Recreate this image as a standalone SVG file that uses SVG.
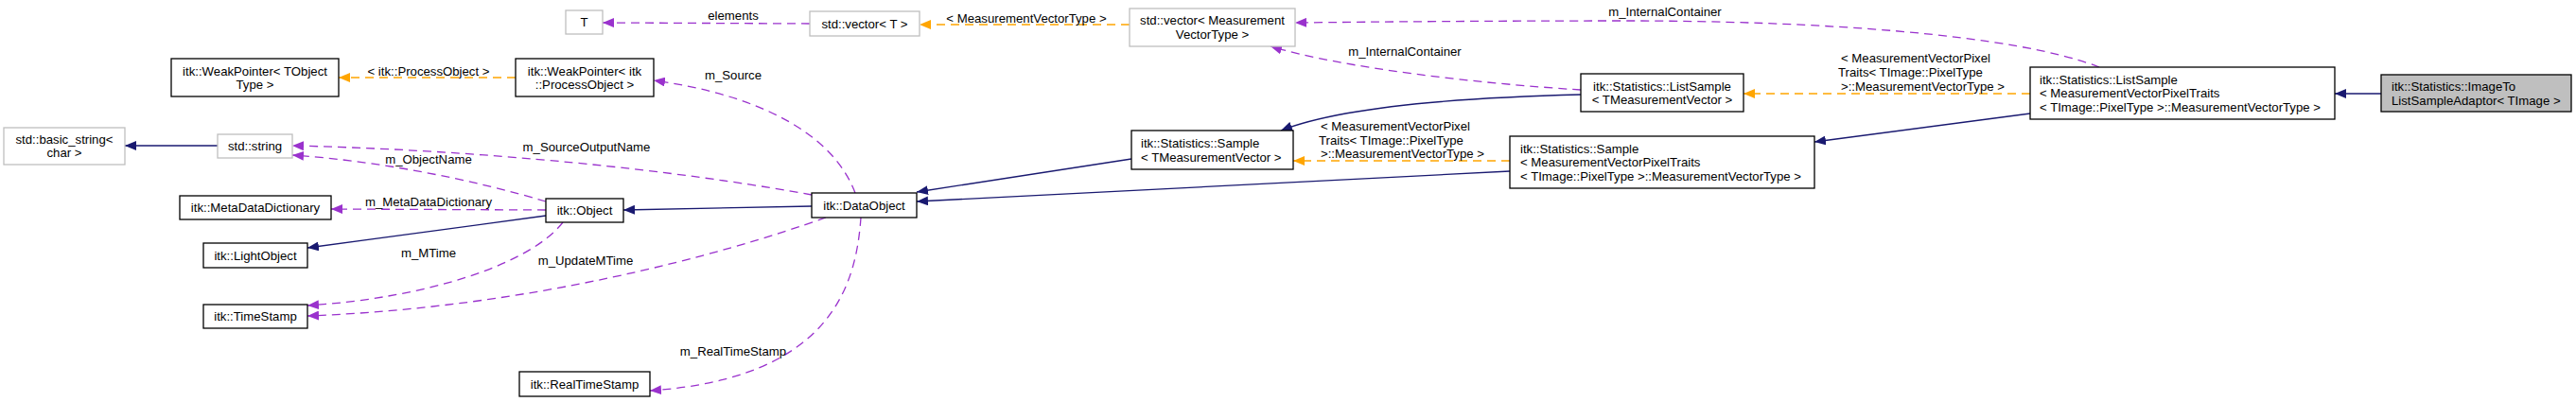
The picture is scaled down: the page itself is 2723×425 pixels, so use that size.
<svg xmlns="http://www.w3.org/2000/svg" width="2723" height="425" viewBox="0 0 2723 425">
<style>
text{font-family:"Liberation Sans",Arial,sans-serif;font-size:13.2px;fill:#000}
.m{text-anchor:middle}
.n rect{fill:#fff;stroke:#000;stroke-width:1.3}
.g rect{fill:#fff;stroke:#bfbfbf;stroke-width:1.3}
.cur rect{fill:#bfbfbf;stroke:#000;stroke-width:1.3}
.e{fill:none;stroke-width:1.3}
.nv{stroke:#191970;marker-end:url(#aN)}
.pu{stroke:#9a32cd;stroke-dasharray:9,6;marker-end:url(#aP)}
.or{stroke:#ffa500;stroke-dasharray:9,6;marker-end:url(#aO)}
</style>
<defs>
<marker id="aN" markerUnits="userSpaceOnUse" markerWidth="12" markerHeight="10" viewBox="0 0 12 10" refX="12" refY="5" orient="auto"><path d="M0,0 L12,5 L0,10 z" fill="#191970"/></marker>
<marker id="aP" markerUnits="userSpaceOnUse" markerWidth="12" markerHeight="10" viewBox="0 0 12 10" refX="12" refY="5" orient="auto"><path d="M0,0 L12,5 L0,10 z" fill="#9a32cd"/></marker>
<marker id="aO" markerUnits="userSpaceOnUse" markerWidth="12" markerHeight="10" viewBox="0 0 12 10" refX="12" refY="5" orient="auto"><path d="M0,0 L12,5 L0,10 z" fill="#ffa500"/></marker>
</defs>
<rect width="2723" height="425" fill="#fff"/>
<g id="edges">
<path class="e nv" d="M2517,99 L2468,99"/>
<path class="e nv" d="M2146,120 L1918,150"/>
<path class="e or" d="M2146,99 L1843,99"/>
<text x="1946" y="65.5">&lt; MeasurementVectorPixel</text>
<text x="1943" y="80.5">Traits&lt; TImage::PixelType</text>
<text x="1946" y="95.5">&gt;::MeasurementVectorType &gt;</text>
<path class="e pu" d="M2219,71 C2130,36 1920,22 1720,22 C1580,22 1460,23 1369,24"/>
<text class="m" x="1760" y="16.5">m_InternalContainer</text>
<path class="e nv" d="M1671,100 C1550,103 1420,112 1354,138"/>
<path class="e pu" d="M1671,95 C1560,88 1420,72 1343,49"/>
<text class="m" x="1485" y="58.5">m_InternalContainer</text>
<path class="e or" d="M1596,170 L1367,170"/>
<text x="1396" y="137.5">&lt; MeasurementVectorPixel</text>
<text x="1394" y="152.5">Traits&lt; TImage::PixelType</text>
<text x="1396" y="167">&gt;::MeasurementVectorType &gt;</text>
<path class="e nv" d="M1596,181 L969,213"/>
<path class="e nv" d="M1196,168 L969,203"/>
<path class="e nv" d="M858,218 L659,222"/>
<path class="e nv" d="M577,228 L325,262"/>
<path class="e nv" d="M230,154 L132,154"/>
<path class="e or" d="M1194,26 L972,26"/>
<text class="m" x="1085" y="23.5">&lt; MeasurementVectorType &gt;</text>
<path class="e pu" d="M856,25 L637,24"/>
<text class="m" x="775" y="20.5">elements</text>
<path class="e or" d="M545,82 L358,82"/>
<text class="m" x="453" y="79.5">&lt; itk::ProcessObject &gt;</text>
<path class="e pu" d="M904,204 C880,140 800,100 691,85"/>
<text class="m" x="775" y="83.5">m_Source</text>
<path class="e pu" d="M858,206 C760,188 560,160 309,154"/>
<text class="m" x="620" y="159.5">m_SourceOutputName</text>
<path class="e pu" d="M577,213 C500,190 400,170 309,164"/>
<text class="m" x="453" y="172.5">m_ObjectName</text>
<path class="e pu" d="M577,222 L350,221"/>
<text class="m" x="453" y="217.5">m_MetaDataDictionary</text>
<path class="e pu" d="M595,235 C560,280 450,315 325,323"/>
<text class="m" x="453" y="271.5">m_MTime</text>
<path class="e pu" d="M873,230 C760,270 560,325 325,334"/>
<text class="m" x="619" y="279.5">m_UpdateMTime</text>
<path class="e pu" d="M910,230 C905,300 880,400 687,413"/>
<text class="m" x="775" y="375.5">m_RealTimeStamp</text>
</g>
<g id="adaptor" class="cur"><rect x="2517" y="79" width="201" height="39"/><text x="2528" y="96">itk::Statistics::ImageTo</text><text x="2528" y="110.5">ListSampleAdaptor&lt; TImage &gt;</text></g>
<g id="listSampleMVPT" class="n"><rect x="2146" y="71" width="322" height="55"/><text x="2156" y="88.5">itk::Statistics::ListSample</text><text x="2156" y="103">&lt; MeasurementVectorPixelTraits</text><text x="2156" y="117.5">&lt; TImage::PixelType &gt;::MeasurementVectorType &gt;</text></g>
<g id="sampleMVPT" class="n"><rect x="1596" y="144" width="322" height="55"/><text x="1607" y="161.5">itk::Statistics::Sample</text><text x="1607" y="176">&lt; MeasurementVectorPixelTraits</text><text x="1607" y="190.5">&lt; TImage::PixelType &gt;::MeasurementVectorType &gt;</text></g>
<g id="listSampleTMV" class="n"><rect x="1671" y="78" width="172" height="40"/><text class="m" x="1757" y="95.5">itk::Statistics::ListSample</text><text class="m" x="1757" y="110">&lt; TMeasurementVector &gt;</text></g>
<g id="sampleTMV" class="n"><rect x="1196" y="138" width="171" height="41"/><text x="1206" y="156">itk::Statistics::Sample</text><text x="1206" y="170.5">&lt; TMeasurementVector &gt;</text></g>
<g id="vectorMeas" class="g"><rect x="1194" y="9" width="175" height="40"/><text class="m" x="1281.5" y="26">std::vector&lt; Measurement</text><text class="m" x="1281.5" y="40.5">VectorType &gt;</text></g>
<g id="vectorT" class="g"><rect x="856" y="12" width="116" height="26"/><text class="m" x="914" y="29.5">std::vector&lt; T &gt;</text></g>
<g id="T" class="g"><rect x="598" y="11" width="39" height="25"/><text class="m" x="617.5" y="28">T</text></g>
<g id="weakPointerPO" class="n"><rect x="545" y="62" width="146" height="40"/><text class="m" x="618" y="79.5">itk::WeakPointer&lt; itk</text><text class="m" x="618" y="94">::ProcessObject &gt;</text></g>
<g id="weakPointerT" class="n"><rect x="181" y="62" width="177" height="40"/><text class="m" x="269.5" y="79.5">itk::WeakPointer&lt; TObject</text><text class="m" x="269.5" y="94">Type &gt;</text></g>
<g id="basicString" class="g"><rect x="4" y="135" width="128" height="39"/><text class="m" x="68" y="151.5">std::basic_string&lt;</text><text class="m" x="68" y="166">char &gt;</text></g>
<g id="stdString" class="g"><rect x="230" y="142" width="79" height="25"/><text class="m" x="269.5" y="159">std::string</text></g>
<g id="metaData" class="n"><rect x="190" y="207" width="160" height="25"/><text class="m" x="270" y="224">itk::MetaDataDictionary</text></g>
<g id="object" class="n"><rect x="577" y="210" width="82" height="25"/><text class="m" x="618" y="227">itk::Object</text></g>
<g id="lightObject" class="n"><rect x="215" y="257" width="110" height="26"/><text class="m" x="270" y="274.5">itk::LightObject</text></g>
<g id="timeStamp" class="n"><rect x="215" y="322" width="110" height="25"/><text class="m" x="270" y="339">itk::TimeStamp</text></g>
<g id="realTimeStamp" class="n"><rect x="549" y="393" width="138" height="26"/><text class="m" x="618" y="410.5">itk::RealTimeStamp</text></g>
<g id="dataObject" class="n"><rect x="858" y="204" width="111" height="26"/><text class="m" x="913.5" y="221.5">itk::DataObject</text></g>
</svg>
